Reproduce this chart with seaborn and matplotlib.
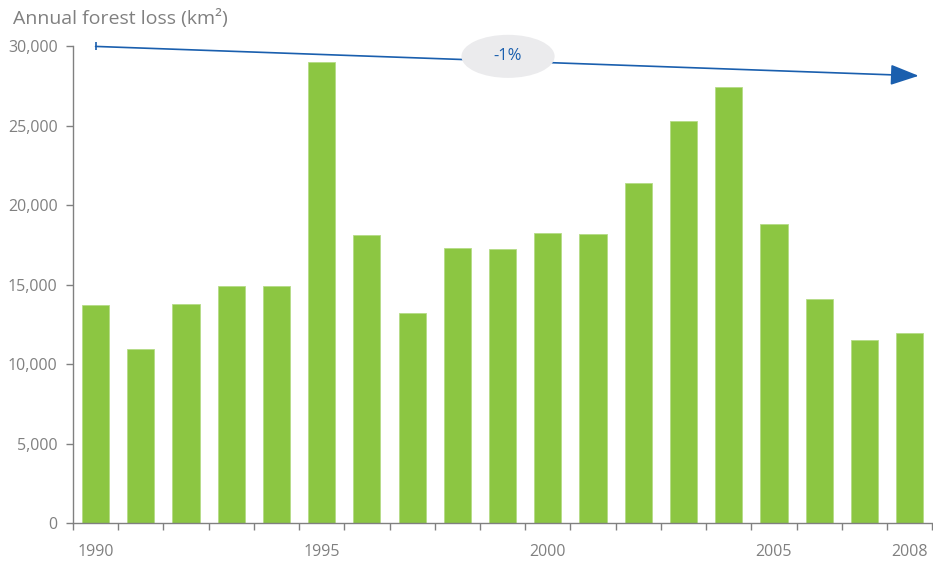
import matplotlib
matplotlib.use('Agg')
import matplotlib.pyplot as plt
from matplotlib.patches import Ellipse
import seaborn as sns

# annual forest loss
years = [str(y) for y in range(1990, 2009)]
loss = [13740, 10970, 13800, 14890, 14890, 29000, 18110, 13215, 17330, 17270,
        18230, 18180, 21430, 25280, 27460, 18850, 14100, 11510, 11960]
shown_years = ['1990', '1995', '2000', '2005', '2008']
trend_label = '-1%'
trend_start = 30000
trend_end = 28150

green = '#8cc642'
grey = '#808080'
blue = '#1a5fae'

sns.set_style('white')
plt.rcParams['font.family'] = ['Open Sans', 'DejaVu Sans']

fig = plt.figure(figsize=(9.33, 5.64), dpi=100)
ax = fig.add_axes([0.0782, 0.0727, 0.921, 0.845])

sns.barplot(x=years, y=loss, color=green, saturation=1, width=0.6, ax=ax,
            edgecolor='#b5dc86', linewidth=0.6)

ax.set_xlim(-0.5, len(years) - 0.5)
ax.set_ylim(0, 30000)
ax.set_yticks(range(0, 30001, 5000))
ax.set_yticklabels(['{:,}'.format(v) for v in range(0, 30001, 5000)])

# labels under bar centres, tick marks between bars
ax.set_xticks([years.index(y) for y in shown_years])
ax.set_xticklabels(shown_years)
ax.set_xticks([i - 0.5 for i in range(len(years) + 1)], minor=True)
ax.tick_params(axis='x', which='major', length=0, pad=15, labelsize=11.5, labelcolor=grey)
ax.tick_params(axis='x', which='minor', length=5, width=1, color=grey, direction='out', bottom=True)
ax.tick_params(axis='y', length=5, width=1, color=grey, direction='out', left=True,
               labelsize=11.5, labelcolor=grey, pad=6)

for side in ['top', 'right']:
    ax.spines[side].set_visible(False)
for side in ['left', 'bottom']:
    ax.spines[side].set_color(grey)
    ax.spines[side].set_linewidth(1)

ax.set_xlabel('')
ax.set_ylabel('')

fig.text(0.014, 0.968, 'Annual forest loss (km²)', color=grey, fontsize=14, va='center', ha='left')

# trend arrow
ax.annotate('', xy=(18.2, trend_end), xytext=(0, trend_start), annotation_clip=False,
            arrowprops=dict(arrowstyle='-|>,head_length=1.1,head_width=0.4', color=blue,
                            lw=1.2, mutation_scale=16, shrinkA=0, shrinkB=0))
ax.plot([0], [trend_start], marker='|', color=blue, markersize=6, mew=1.2, clip_on=False)
ax.add_patch(Ellipse((9.12, 29375), 2.06, 2710, facecolor='#ebebed', edgecolor='none',
                     zorder=5, clip_on=False))
ax.text(9.12, 29375, trend_label, color=blue, fontsize=12, ha='center', va='center', zorder=6)

fig.savefig('out.png', dpi=100)
